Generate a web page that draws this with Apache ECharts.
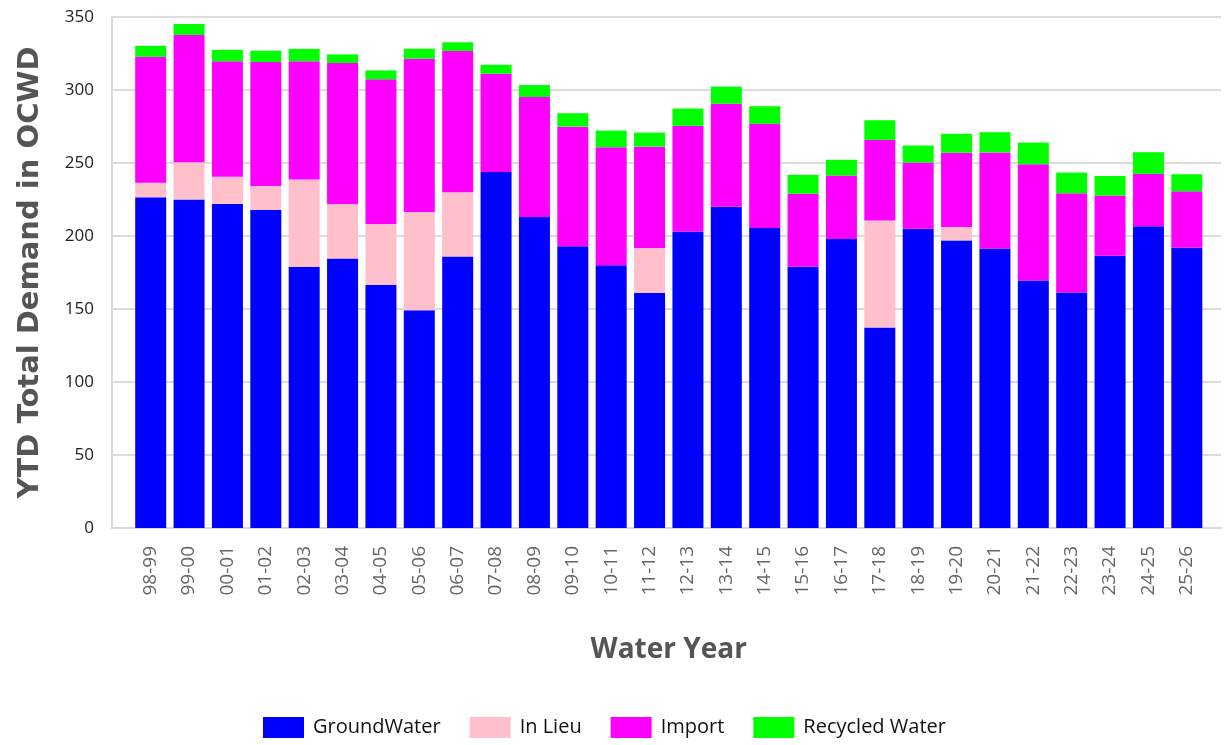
<!DOCTYPE html>
<html>
<head>
<meta charset="utf-8">
<script src="https://cdn.jsdelivr.net/npm/echarts@6/dist/echarts.min.js"></script>
<style>
  html, body { margin: 0; padding: 0; background: #fff; }
  #main { width: 1225px; height: 745px; }
</style>
</head>
<body>
<div id="main"></div>
<script>
// water years on the x axis
var years = ['98-99','99-00','00-01','01-02','02-03','03-04','04-05','05-06','06-07','07-08',
  '08-09','09-10','10-11','11-12','12-13','13-14','14-15','15-16','16-17','17-18',
  '18-19','19-20','20-21','21-22','22-23','23-24','24-25','25-26'];

// stacked values
var groundWater = [226.5, 225, 222, 218, 179, 184.6, 166.6, 149.2, 186, 243.9,
  213, 193, 180, 161, 203, 220, 205.5, 179, 198, 137.3,
  205, 197, 191.5, 169.5, 161.3, 186.5, 206.6, 192];
var inLieu = [10, 25.5, 18.5, 16.3, 59.7, 37.3, 41.6, 67.2, 43.9, 0,
  0, 0, 0, 30.7, 0, 0, 0, 0, 0, 73.4,
  0, 9.2, 0, 0, 0, 0, 0, 0];
var importW = [86.2, 87.2, 79.2, 84.8, 81, 96.6, 99.1, 105, 96.8, 67.2,
  82.2, 81.9, 80.8, 69.5, 72.4, 70.6, 71.3, 49.9, 43.4, 55.1,
  45.3, 50.8, 65.7, 79.6, 67.9, 41.2, 35.9, 38.6];
var recycled = [7.5, 7.5, 7.8, 7.8, 8.5, 5.9, 6.1, 6.9, 6, 6.2,
  8.2, 9.2, 11.4, 9.6, 11.9, 11.7, 12.1, 13, 10.8, 13.5,
  11.7, 13, 13.9, 14.9, 14.2, 13.4, 14.9, 11.7];

var myChart = echarts.init(document.getElementById('main'));

function bar(name, data, color) {
  return {
    name: name,
    type: 'bar',
    stack: 'total',
    xAxisIndex: 1,
    yAxisIndex: 1,
    barWidth: 31,
    itemStyle: { color: color },
    data: data
  };
}

var option = {
  animation: false,
  textStyle: { fontFamily: 'Open Sans' },
  // grid 0 carries the frame and y scale, grid 1 (a bit narrower) the bars
  grid: [
    { left: 112, right: 4, top: 17, bottom: 217, outerBoundsMode: 'none' },
    { left: 131.5, right: 19, top: 17, bottom: 217, outerBoundsMode: 'none' }
  ],
  legend: {
    bottom: 7,
    left: 263,
    padding: 0,
    icon: 'rect',
    itemWidth: 41,
    itemHeight: 21,
    itemGap: 29,
    textStyle: { fontSize: 20, color: '#111', fontFamily: 'Open Sans', padding: [0, 0, 0, 4] },
    data: ['GroundWater', 'In Lieu', 'Import', 'Recycled Water']
  },
  xAxis: [
    {
      gridIndex: 0,
      type: 'value',
      min: 0,
      max: 1,
      axisLine: { show: true, lineStyle: { color: '#d9d9d9', width: 2 } },
      axisTick: { show: false },
      axisLabel: { show: false },
      splitLine: { show: false }
    },
    {
      gridIndex: 1,
      type: 'category',
      data: years,
      name: 'Water Year',
      nameLocation: 'middle',
      nameGap: 108,
      nameTextStyle: { fontSize: 28, fontWeight: 'bold', color: '#555', fontFamily: 'Open Sans' },
      axisLine: { show: false },
      axisTick: { show: false },
      axisLabel: { rotate: 90, fontSize: 19, color: '#666', margin: 18 }
    }
  ],
  yAxis: [
    {
      gridIndex: 0,
      type: 'value',
      min: 0,
      max: 350,
      interval: 50,
      name: 'YTD Total Demand in OCWD',
      nameLocation: 'middle',
      nameGap: 67,
      nameTextStyle: { fontSize: 29, fontWeight: 'bold', color: '#555', fontFamily: 'DejaVu Sans' },
      axisLine: { show: true, lineStyle: { color: '#d9d9d9', width: 2 } },
      axisTick: { show: false },
      axisLabel: { fontSize: 17, color: '#222', margin: 18 },
      splitLine: { lineStyle: { color: '#dcdcdc', width: 2 } }
    },
    {
      gridIndex: 1,
      type: 'value',
      min: 0,
      max: 350,
      interval: 50,
      axisLine: { show: false },
      axisTick: { show: false },
      axisLabel: { show: false },
      splitLine: { show: false }
    }
  ],
  series: [
    bar('GroundWater', groundWater, '#0000ff'),
    bar('In Lieu', inLieu, '#ffc0cb'),
    bar('Import', importW, '#ff00ff'),
    bar('Recycled Water', recycled, '#00ff00')
  ]
};

myChart.setOption(option);
</script>
</body>
</html>
